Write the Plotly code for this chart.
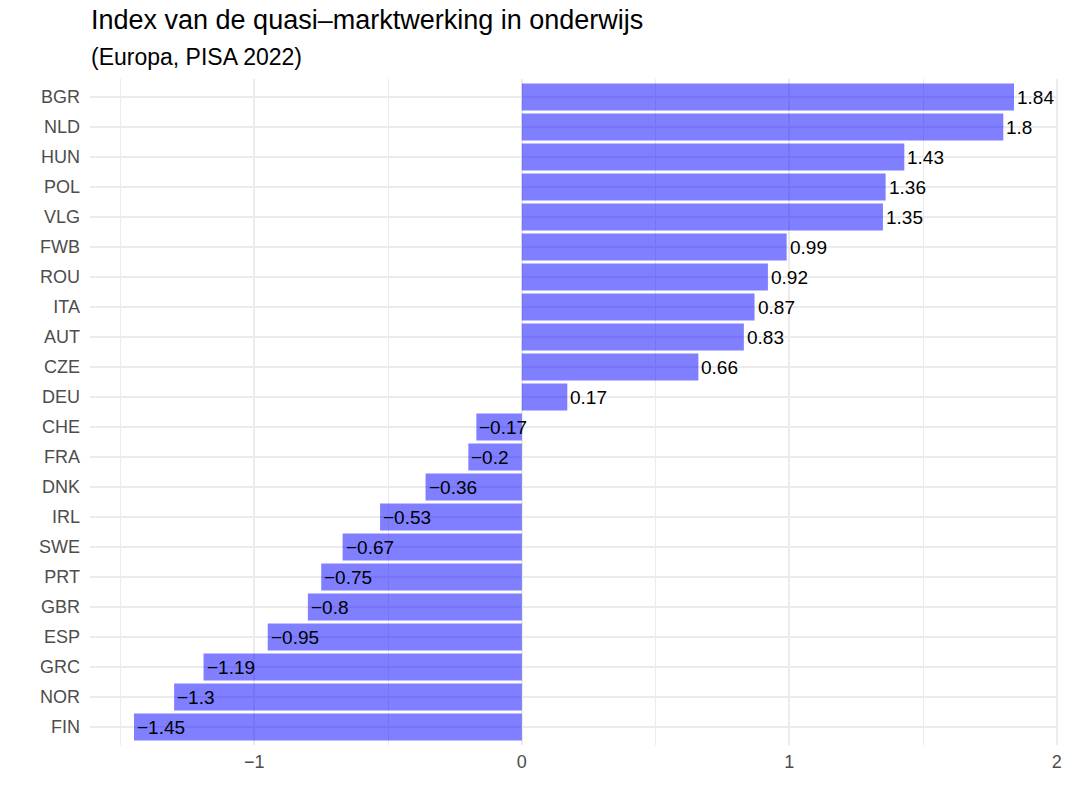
import plotly.graph_objects as go

countries = ["BGR", "NLD", "HUN", "POL", "VLG", "FWB", "ROU", "ITA", "AUT", "CZE", "DEU",
             "CHE", "FRA", "DNK", "IRL", "SWE", "PRT", "GBR", "ESP", "GRC", "NOR", "FIN"]
values = [1.84, 1.8, 1.43, 1.36, 1.35, 0.99, 0.92, 0.87, 0.83, 0.66, 0.17,
          -0.17, -0.2, -0.36, -0.53, -0.67, -0.75, -0.8, -0.95, -1.19, -1.3, -1.45]
x_ticks = [-1, 0, 1, 2]
x_minor = [-1.5, -0.5, 0.5, 1.5]

title = "Index van de quasi\u2013marktwerking in onderwijs"
subtitle = "(Europa, PISA 2022)"

FONT = "Liberation Sans, Arial, Helvetica, sans-serif"
GRID = "#EBEBEB"

W, H = 1068, 810
ML, MR, MT, MB = 90, 10, 79, 65
PH = H - MT - MB


def fmt(v):
    s = f"{v:g}"
    return s.replace("-", "\u2212")


# bottom-to-top order for plotly
cats = countries[::-1]
vals = values[::-1]

fig = go.Figure()
fig.add_trace(go.Bar(
    x=vals, y=cats, orientation="h",
    marker=dict(color="rgba(0,0,255,0.5)", line=dict(width=0)),
    width=0.9, hoverinfo="skip",
))

for c, v in zip(cats, vals):
    fig.add_annotation(x=v, y=c, xref="x", yref="y", text=fmt(v), showarrow=False,
                       xanchor="left", yanchor="middle", borderpad=0, borderwidth=0,
                       xshift=3,
                       font=dict(family=FONT, size=19, color="black"))

lo = min(values) - 0.05 * (max(values) - min(values))
hi = max(values) + 0.05 * (max(values) - min(values))

fig.update_layout(
    width=W, height=H,
    margin=dict(l=ML, r=MR, t=MT, b=MB),
    plot_bgcolor="white", paper_bgcolor="white",
    showlegend=False,
    font=dict(family=FONT),
    title=dict(text=title, x=91 / W, xanchor="left", xref="container",
               y=1 - 20 / H, yanchor="middle", yref="container",
               font=dict(family=FONT, size=27, color="black")),
    xaxis=dict(range=[lo, hi], tickvals=x_ticks, ticktext=[fmt(t) for t in x_ticks],
               showgrid=True, gridcolor=GRID, gridwidth=2, zeroline=False,
               showline=False, ticks="", ticklabelstandoff=4, automargin=False,
               tickfont=dict(family=FONT, size=18, color="#4D4D4D"),
               minor=dict(tickvals=x_minor, showgrid=True, gridcolor=GRID, gridwidth=1, ticks="")),
    yaxis=dict(type="category", categoryorder="array", categoryarray=cats,
               range=[-0.6, len(cats) - 1 + 0.6],
               showgrid=True, gridcolor=GRID, gridwidth=2, zeroline=False,
               showline=False, ticks="", ticklabelstandoff=9, automargin=False,
               tickfont=dict(family=FONT, size=18, color="#4D4D4D")),
)

fig.add_annotation(text=subtitle, xref="paper", yref="paper", x=0, y=(H - MB - 57) / PH,
                   xanchor="left", yanchor="middle", showarrow=False, borderpad=0,
                   font=dict(family=FONT, size=23, color="black"))

fig.write_html("out.html", config={"displayModeBar": False},
               post_script="document.body.style.margin='0';document.body.style.overflow='hidden';")
